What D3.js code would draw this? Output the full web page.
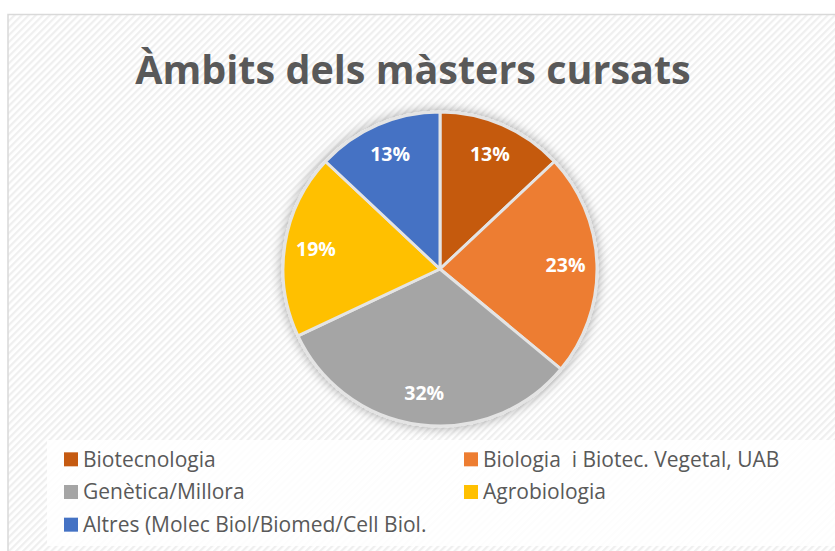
<!DOCTYPE html>
<html>
<head>
<meta charset="utf-8">
<script src="https://cdn.jsdelivr.net/npm/d3@7"></script>
<style>
  body { margin: 0; background: #fff; }
  svg { display: block; font-family: "Open Sans", "Liberation Sans", sans-serif; }
</style>
</head>
<body>
<script>
// chart data
const categories = [
  "Biotecnologia",
  "Biologia  i Biotec. Vegetal, UAB",
  "Genètica/Millora",
  "Agrobiologia",
  "Altres (Molec Biol/Biomed/Cell Biol.",
];
const values = [13, 23, 32, 19, 13];
const colors = ["#C55A11", "#ED7D31", "#A5A5A5", "#FFC000", "#4472C4"];
const title = "Àmbits dels màsters cursats";

const baseWidth = 835,
  baseHeight = 551;

const svg = d3
  .select("body")
  .append("svg")
  .attr("width", baseWidth)
  .attr("height", baseHeight);

const defs = svg.append("defs");

// diagonal hatch background
const hatch = defs
  .append("pattern")
  .attr("id", "hatch")
  .attr("patternUnits", "userSpaceOnUse")
  .attr("width", 5)
  .attr("height", 5)
  .attr("patternTransform", "rotate(-45)");
hatch.append("rect").attr("width", 5).attr("height", 5).attr("fill", "#ffffff");
hatch.append("rect").attr("width", 5).attr("height", 2.2).attr("fill", "#efefef");

const shadow = defs
  .append("filter")
  .attr("id", "shadow")
  .attr("x", "-20%")
  .attr("y", "-20%")
  .attr("width", "140%")
  .attr("height", "140%");
shadow.append("feGaussianBlur").attr("in", "SourceAlpha").attr("stdDeviation", 6);
shadow.append("feOffset").attr("dx", 0).attr("dy", 0).attr("result", "blur");
shadow
  .append("feComponentTransfer")
  .append("feFuncA")
  .attr("type", "linear")
  .attr("slope", 0.35);
const merge = shadow.append("feMerge");
merge.append("feMergeNode");
merge.append("feMergeNode").attr("in", "SourceGraphic");

// chart frame
svg
  .append("rect")
  .attr("x", 8)
  .attr("y", 14.5)
  .attr("width", baseWidth + 10)
  .attr("height", baseHeight)
  .attr("fill", "url(#hatch)")
  .attr("stroke", "#d9d9d9")
  .attr("stroke-width", 1.5);

svg
  .append("text")
  .attr("x", 413)
  .attr("y", 84)
  .attr("text-anchor", "middle")
  .attr("fill", "#595959")
  .style("font-size", "39.5px")
  .style("font-weight", "bold")
  .text(title);

// pie
const cx = 440,
  cy = 269,
  radius = 157;

const pie = d3.pie().sort(null).value((d) => d)(values);
const arc = d3.arc().innerRadius(0).outerRadius(radius);
const labelArc = d3
  .arc()
  .innerRadius(radius * 0.8)
  .outerRadius(radius * 0.8);

const pieG = svg
  .append("g")
  .attr("transform", "translate(" + cx + "," + cy + ")");

pieG
  .append("g")
  .attr("filter", "url(#shadow)")
  .selectAll("path")
  .data(pie)
  .enter()
  .append("path")
  .attr("d", arc)
  .attr("fill", (d, i) => colors[i])
  .attr("stroke", "#e4e4e4")
  .attr("stroke-width", 3)
  .attr("stroke-linejoin", "round");

pieG
  .selectAll(".lbl")
  .data(pie)
  .enter()
  .append("text")
  .attr("class", "lbl")
  .attr("transform", (d) => "translate(" + labelArc.centroid(d) + ")")
  .attr("dy", ".35em")
  .attr("text-anchor", "middle")
  .attr("fill", "#ffffff")
  .style("font-size", "19.5px")
  .style("font-weight", "bold")
  .text((d) => d.data + "%");

// legend
svg
  .append("rect")
  .attr("x", 47)
  .attr("y", 440)
  .attr("width", baseWidth)
  .attr("height", 106)
  .attr("fill", "#ffffff")
  .attr("fill-opacity", 0.85);

const legendX = d3.scaleOrdinal().domain([0, 1]).range([64, 464]);
const legendY = d3.scaleBand().domain([0, 1, 2]).range([443, 541]);

const items = svg
  .selectAll(".leg")
  .data(categories)
  .enter()
  .append("g")
  .attr("class", "leg")
  .attr(
    "transform",
    (d, i) =>
      "translate(" + legendX(i % 2) + "," + (legendY(Math.floor(i / 2)) + legendY.bandwidth() / 2) + ")"
  );

items
  .append("rect")
  .attr("x", 0)
  .attr("y", -7)
  .attr("width", 14)
  .attr("height", 14)
  .attr("fill", (d, i) => colors[i]);

items
  .append("text")
  .attr("x", 19)
  .attr("dy", ".35em")
  .attr("fill", "#595959")
  .style("font-size", "21px")
  .style("white-space", "pre")
  .text((d) => d);
</script>
</body>
</html>
